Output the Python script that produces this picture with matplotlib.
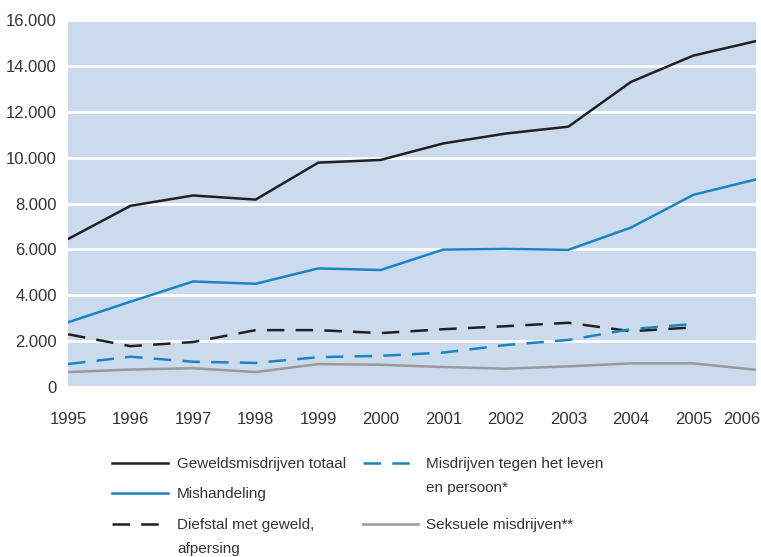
import matplotlib.pyplot as plt
import matplotlib.transforms as mtrans
import numpy as np
from matplotlib.lines import Line2D
from matplotlib.ticker import FuncFormatter

years = list(range(1995, 2007))

totaal = [6450, 7900, 8350, 8170, 9780, 9900, 10620, 11050, 11350, 13300, 14450, 15080]
mishandeling = [2820, 3720, 4600, 4500, 5170, 5100, 5990, 6020, 5980, 6950, 8380, 9050]
diefstal = [2300, 1780, 1960, 2480, 2480, 2350, 2520, 2650, 2800, 2430, 2600, np.nan]
leven = [1000, 1320, 1100, 1050, 1300, 1360, 1500, 1830, 2050, 2520, 2750, np.nan]
seksueel = [650, 760, 820, 650, 1000, 970, 870, 800, 900, 1030, 1030, 750]

labels = ['Geweldsmisdrijven totaal', 'Mishandeling',
          'Diefstal met geweld,\nafpersing',
          'Misdrijven tegen het leven\nen persoon*', 'Seksuele misdrijven**']

plt.rcParams['font.family'] = ['Liberation Sans', 'DejaVu Sans']

black = '#231f20'
blue = '#1a84c3'
grey = '#9a9a9a'
txt = '#333333'
dash = (7, 4.5)

W, H = 761, 557
fig = plt.figure(figsize=(W / 100, H / 100), dpi=100)
ax = fig.add_axes([68 / W, 1 - 387 / H, 688 / W, 367 / H])
ax.set_facecolor('#cbdbed')

lw = 1.8
styles = [
    dict(color=black),
    dict(color=blue),
    dict(color=black, dashes=dash),
    dict(color=blue, dashes=dash),
    dict(color=grey),
]
series = [totaal, mishandeling, diefstal, leven, seksueel]
for vals, st in zip(series, styles):
    ax.plot(years, vals, lw=lw, **st)

ax.set_xlim(1995, 2006)
ax.set_ylim(0, 16000)
ax.set_xticks(years)
ax.set_yticks(range(0, 16001, 2000))
ax.yaxis.set_major_formatter(FuncFormatter(lambda v, p: f'{int(v):,}'.replace(',', '.')))
ax.grid(axis='y', color='white', lw=2)
ax.set_axisbelow(True)
for s in ax.spines.values():
    s.set_visible(False)
ax.tick_params(length=0, labelsize=12, colors=txt)
ax.tick_params(axis='y', pad=8)
ax.tick_params(axis='x', pad=18)
# last year label sits at the very edge, keep it inside the canvas
last = ax.get_xticklabels()[-1]
last.set_horizontalalignment('right')
last.set_transform(last.get_transform() + mtrans.ScaledTranslation(4 / 100, 0, fig.dpi_scale_trans))

# legend drawn by hand so that handles line up with the first text line
legend_pos = [
    (112, 168, 177, 463),
    (112, 168, 177, 493),
    (112, 168, 177, 524),
    (363, 418, 426, 463),
    (363, 418, 426, 524),
]
for (x0, x1, xt, y), lab, st in zip(legend_pos, labels, styles):
    fig.add_artist(Line2D([x0 / W, x1 / W], [1 - y / H, 1 - y / H], lw=lw,
                          transform=fig.transFigure, **st))
    fig.text(xt / W, 1 - (y - 6) / H, lab, fontsize=11, color=txt,
             va='top', ha='left', linespacing=1.95)

fig.savefig('out.png', dpi=100)
